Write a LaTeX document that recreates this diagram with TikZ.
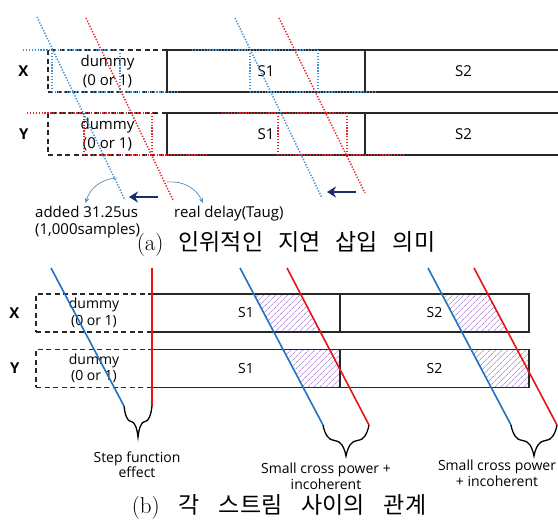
\documentclass[tikz,border=0pt]{standalone}
\usepackage{fontspec}
\newfontfamily\labelfont{Open Sans}
\newfontfamily\krfont{Noto Sans CJK KR}
\usepackage{tikz}
\usetikzlibrary{arrows.meta, positioning, calc, patterns.meta, backgrounds, decorations.pathreplacing}

\definecolor{dotblue}{RGB}{65,145,210}
\definecolor{dotred}{RGB}{228,35,40}
\definecolor{lineblue}{RGB}{30,115,195}
\definecolor{linered}{RGB}{232,20,20}
\definecolor{navy}{RGB}{25,45,110}
\definecolor{boxedge}{RGB}{40,40,40}
\definecolor{hatchviolet}{RGB}{150,100,200}

\begin{document}
\begin{tikzpicture}[
        x=1pt, y=-1pt,
        every node/.style={font=\labelfont\fontsize{15}{19}\selectfont},
        dummybox/.style={draw=boxedge, line width=1.2pt, dash pattern=on 5pt off 3.5pt, minimum height=42pt, inner sep=0pt, outer sep=0pt, align=center},
        slotbox/.style={draw=boxedge, line width=1.2pt, minimum height=42pt, inner sep=0pt, outer sep=0pt},
        rowlabel/.style={font=\labelfont\bfseries\fontsize{15}{18}\selectfont},
        bdot/.style={dotblue, line width=1.5pt, dash pattern=on 1.3pt off 1.6pt},
        rdot/.style={dotred, line width=1.5pt, dash pattern=on 1.3pt off 1.6pt},
        bline/.style={lineblue, line width=1.6pt},
        rline/.style={linered, line width=1.6pt},
        lagarrow/.style={navy, line width=2.8pt, -{Stealth[length=9pt, width=11pt]}},
        note/.style={draw=dotblue!75!gray, line width=0.7pt, -{Stealth[length=5pt, width=4.5pt]}},
        hatched/.style={pattern={Lines[angle=45, distance=4pt, line width=0.6pt]}, pattern color=hatchviolet},
        curly/.style={draw=black, line width=1.3pt, decorate, decoration={brace, amplitude=31pt}},
        captext/.style={font=\fontsize{23}{26}\selectfont}
    ]
    \useasboundingbox (0,0) rectangle (558,521);

    % (a) artificial delay
    \node[dummybox, minimum width=119pt] (xd) at (107.5,71) {dummy\\(0 or 1)};
    \node[slotbox, minimum width=198pt, right=0pt of xd] (xs1) {S1};
    \node[slotbox, minimum width=197pt, right=0pt of xs1] (xs2) {S2};
    \node[rowlabel, left=16pt of xd] (xl) {X};

    \node[dummybox, minimum width=119pt] (yd) at (107.5,134) {dummy\\(0 or 1)};
    \node[slotbox, minimum width=198pt, right=0pt of yd] (ys1) {S1};
    \node[slotbox, minimum width=197pt, right=0pt of ys1] (ys2) {S2};
    \node[rowlabel, left=16pt of yd] (yl) {Y};

    \draw[boxedge, line width=2.2pt] (xs1.north west) -- (xs1.south west) (xs1.north east) -- (xs1.south east);
    \draw[boxedge, line width=2.2pt] (ys1.north west) -- (ys1.south west) (ys1.north east) -- (ys1.south east);

    \draw[bdot] (23,50) -- (120,50) (52,50) -- (52,92) (120,50) -- (120,92) (52,92) -- (177,92);
    \draw[bdot] (192,50) -- (318,50) (250,50) -- (250,92) (318,50) -- (318,92) (250,92) -- (377,92);
    \draw[rdot] (27,113) -- (152,113) (84,113) -- (84,155) (152,113) -- (152,155) (84,155) -- (208,155);
    \draw[rdot] (222,113) -- (347,113) (278,113) -- (278,155) (347,113) -- (347,155) (278,155) -- (403,155);

    \coordinate (ba1) at (37,17);   \coordinate (ba1e) at (125,200);
    \coordinate (ra1) at (86,18);   \coordinate (ra1e) at (173,200);
    \coordinate (ba2) at (235,18);  \coordinate (ba2e) at (322,198);
    \coordinate (ra2) at (279,18);  \coordinate (ra2e) at (365,193);
    \draw[bdot] (ba1) -- (ba1e);
    \draw[rdot] (ra1) -- (ra1e);
    \draw[bdot] (ba2) -- (ba2e);
    \draw[rdot] (ra2) -- (ra2e);

    \coordinate (la1) at (158,197); \coordinate (la1e) at (129,197);
    \coordinate (la2) at (356,192); \coordinate (la2e) at (327,192);
    \draw[lagarrow] (la1) -- (la1e);
    \draw[lagarrow] (la2) -- (la2e);

    \node[anchor=north west, align=left, inner sep=0pt, font=\labelfont\fontsize{15}{17}\selectfont] (added) at (35,206) {added 31.25us\\(1,000samples)};
    \node[anchor=north west, inner sep=0pt] (real) at (174,206) {real delay(Taug)};
    \coordinate (na1) at (117,178);
    \coordinate (na2) at (167,182);
    \draw[note] (na1) to[bend right=35] ([xshift=-2pt, yshift=3pt]added.north);
    \draw[note] (na2) to[bend left=35] ([xshift=29pt, yshift=3pt]real.north west);

    \node[captext] (capa) at (286,244) {\spaceskip=15pt (a) \krfont 인위적인 지연 삽입 의미};

    % (b) stream relation
    \begin{scope}[every node/.style={font=\labelfont\fontsize{14}{16.5}\selectfont}]
    \node[dummybox, minimum width=116pt, minimum height=38pt] (xd2) at (94,313) {dummy\\(0 or 1)};
    \node[slotbox, minimum width=188pt, minimum height=38pt, right=0pt of xd2] (xs1b) {S1};
    \node[slotbox, minimum width=189pt, minimum height=38pt, right=0pt of xs1b] (xs2b) {S2};
    \node[rowlabel, left=13pt of xd2] (xl2) {X};

    \node[dummybox, minimum width=116pt, minimum height=38pt] (yd2) at (94,368.5) {dummy\\(0 or 1)};
    \node[slotbox, minimum width=188pt, minimum height=38pt, right=0pt of yd2] (ys1b) {S1};
    \node[slotbox, minimum width=189pt, minimum height=38pt, right=0pt of ys1b] (ys2b) {S2};
    \node[rowlabel, left=13pt of yd2] (yl2) {Y};

    \draw[boxedge, line width=1.8pt] (xs1b.north east) -- (xs1b.south east);
    \draw[boxedge, line width=1.8pt] (ys1b.north east) -- (ys1b.south east);

    \coordinate (bb1) at (51,268);  \coordinate (bb1e) at (124,406);
    \coordinate (rb1) at (152,268); \coordinate (rb1e) at (152,406);
    \coordinate (bb2) at (240,268); \coordinate (bb2e) at (323,425);
    \coordinate (rb2) at (287,268); \coordinate (rb2e) at (369,425);
    \coordinate (bb3) at (428,268); \coordinate (bb3e) at (511,425);
    \coordinate (rb3) at (474,268); \coordinate (rb3e) at (557,425);
    \coordinate (s1end) at (ys1b.north east);
    \coordinate (s2end) at (ys2b.north east);

    \begin{scope}[on background layer]
        \begin{scope}
            \clip (xs1b.north west) rectangle (xs2b.south east);
            \fill[hatched] (bb2) -- (rb2) -- (rb2e) -- (bb2e) -- cycle;
            \fill[hatched] (bb3) -- (rb3) -- (rb3e) -- (bb3e) -- cycle;
        \end{scope}
        \begin{scope}
            \clip (ys1b.north west) rectangle (ys2b.south east);
            \fill[hatched] (bb2) -- (s1end |- bb2) -- (s1end |- bb2e) -- (bb2e) -- cycle;
            \fill[hatched] (bb3) -- (s2end |- bb3) -- (s2end |- bb3e) -- (bb3e) -- cycle;
        \end{scope}
    \end{scope}

    \draw[bline] (bb1) -- (bb1e);
    \draw[rline] (rb1) -- (rb1e);
    \draw[bline] (bb2) -- (bb2e);
    \draw[rline] (rb2) -- (rb2e);
    \draw[bline] (bb3) -- (bb3e);
    \draw[rline] (rb3) -- (rb3e);

    \draw[curly] (rb1e) -- (bb1e);
    \draw[curly] (rb2e) -- (bb2e);
    \draw[curly] (rb3e) -- (bb3e);

    \node[align=center, font=\labelfont\fontsize{14}{15.5}\selectfont] (stepl) at (137,464.5) {Step function\\effect};
    \node[align=center, font=\labelfont\fontsize{14}{16}\selectfont] (cross1) at (326,476) {Small cross power +\\incoherent};
    \node[align=center] (cross2) at (497,473.5) {Small cross power\\+ incoherent};
    \end{scope}

    \node[captext, inner sep=1pt] (capb) at (279,507) {\spaceskip=19pt (b) \krfont 각 스트림 사이의 관계};
\end{tikzpicture}
\end{document}
